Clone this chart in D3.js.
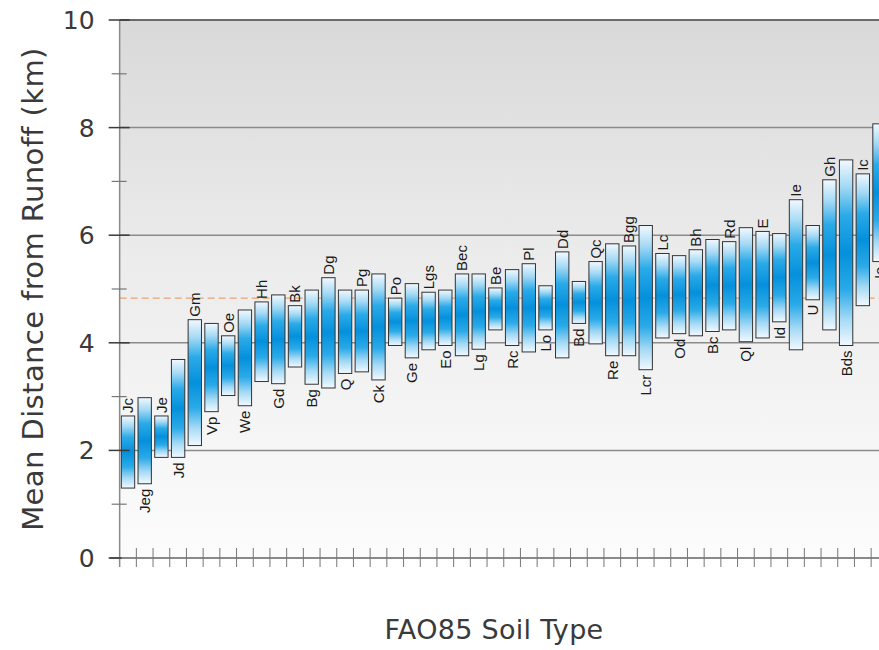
<!DOCTYPE html>
<html>
<head>
<meta charset="utf-8">
<script src="https://cdn.jsdelivr.net/npm/d3@7"></script>
<style>
  html, body { margin: 0; padding: 0; background: #ffffff; }
  svg { display: block; }
</style>
</head>
<body>
<svg id="chart" width="879" height="650"></svg>
<script>
// FAO85 soil units and the range of mean distance from runoff (km)
const soilTypes = ["Jc","Jeg","Je","Jd","Gm","Vp","Oe","We","Hh","Gd","Bk","Bg","Dg","Q","Pg","Ck","Po","Ge","Lgs","Eo","Bec","Lg","Be","Rc","Pl","Lo","Dd","Bd","Qc","Re","Bgg","Lcr","Lc","Od","Bh","Bc","Rd","Ql","E","Id","Ie","U","Gh","Bds","Ic","Io"];
const lowValues  = [1.30,1.38,1.87,1.87,2.09,2.72,3.02,2.83,3.28,3.24,3.55,3.23,3.16,3.43,3.46,3.31,3.95,3.72,3.87,3.95,3.76,3.88,4.24,3.95,3.83,4.24,3.72,4.36,3.98,3.76,3.76,3.50,4.09,4.17,4.13,4.21,4.24,4.02,4.09,4.39,3.87,4.80,4.24,3.95,4.69,5.51];
const highValues = [2.64,2.98,2.64,3.69,4.43,4.36,4.13,4.61,4.76,4.89,4.69,4.98,5.21,4.98,4.98,5.28,4.83,5.10,4.94,4.98,5.28,5.28,5.02,5.36,5.47,5.06,5.69,5.14,5.51,5.84,5.80,6.18,5.66,5.62,5.73,5.92,5.88,6.14,6.07,6.03,6.66,6.18,7.03,7.40,7.14,8.07];
const meanDistance = 4.83;
const majorTicks = [0, 2, 4, 6, 8, 10];
const minorTicks = [1, 3, 5, 7, 9];

const svg = d3.select("#chart");
const W = 879;
const plotLeft = 119.65, plotTop = 20, plotBottom = 558, step = 16.7;

const rows = soilTypes.map((t, i) => ({ type: t, low: lowValues[i], high: highValues[i], i }));

const x = d3.scaleBand()
  .domain(soilTypes)
  .range([plotLeft, plotLeft + soilTypes.length * step])
  .paddingInner(0.2)
  .paddingOuter(0.1);

const y = d3.scaleLinear().domain([0, 10]).range([plotBottom, plotTop]);

const defs = svg.append("defs");

// plot background: grey at the top fading to near white
const bg = defs.append("linearGradient").attr("id", "bgGrad")
  .attr("x1", 0).attr("y1", 0).attr("x2", 0).attr("y2", 1);
bg.append("stop").attr("offset", "0%").attr("stop-color", "#d9d9d9");
bg.append("stop").attr("offset", "45%").attr("stop-color", "#ececec");
bg.append("stop").attr("offset", "100%").attr("stop-color", "#fcfcfc");

// bar fill: white at both ends, blue in the middle
const bar = defs.append("linearGradient").attr("id", "barGrad")
  .attr("x1", 0).attr("y1", 0).attr("x2", 0).attr("y2", 1);
[["0%", "#f2f9ff"], ["14%", "#a6daf5"], ["30%", "#2aaae8"], ["50%", "#0590dc"],
 ["70%", "#2aaae8"], ["86%", "#a6daf5"], ["100%", "#f2f9ff"]]
  .forEach(([o, c]) => bar.append("stop").attr("offset", o).attr("stop-color", c));

const plotRight = W + 20;

svg.append("rect")
  .attr("x", plotLeft).attr("y", plotTop)
  .attr("width", plotRight - plotLeft).attr("height", plotBottom - plotTop)
  .attr("fill", "url(#bgGrad)");

// horizontal grid lines at the major ticks
svg.append("g").selectAll("line")
  .data(majorTicks.filter(v => v > 0))
  .join("line")
  .attr("x1", plotLeft).attr("x2", plotRight)
  .attr("y1", d => y(d)).attr("y2", d => y(d))
  .attr("stroke", d => d === 10 ? "#6a6a66" : "#8c8c8c")
  .attr("stroke-width", d => d === 10 ? 2 : 1.5);

// mean line
svg.append("line")
  .attr("x1", plotLeft).attr("x2", plotRight)
  .attr("y1", y(meanDistance)).attr("y2", y(meanDistance))
  .attr("stroke", "#f2a070").attr("stroke-width", 1.3)
  .attr("stroke-dasharray", "7,4");

// floating bars
svg.append("g").selectAll("rect")
  .data(rows)
  .join("rect")
  .attr("x", d => x(d.type))
  .attr("width", x.bandwidth())
  .attr("y", d => y(d.high))
  .attr("height", d => y(d.low) - y(d.high))
  .attr("fill", "url(#barGrad)")
  .attr("stroke", "#333333")
  .attr("stroke-width", 1);

// labels alternate above and below the bars
svg.append("g").selectAll("text")
  .data(rows)
  .join("text")
  .attr("transform", d => {
    const cx = x(d.type) + x.bandwidth() / 2;
    const yy = d.i % 2 === 0 ? y(d.high) - 3 : y(d.low) + 5;
    return `translate(${cx},${yy}) rotate(-90)`;
  })
  .attr("dy", "0.36em")
  .attr("text-anchor", d => d.i % 2 === 0 ? "start" : "end")
  .attr("font-family", "'Liberation Sans', Arial, sans-serif")
  .attr("font-size", 15)
  .attr("fill", "#1a1a1a")
  .text(d => d.type);

// y axis
const yAxis = svg.append("g");
yAxis.append("line")
  .attr("x1", plotLeft).attr("x2", plotLeft)
  .attr("y1", plotTop).attr("y2", plotBottom + 9)
  .attr("stroke", "#8a8a8a").attr("stroke-width", 1.5);
yAxis.selectAll(".minor")
  .data(minorTicks).join("line").attr("class", "minor")
  .attr("x1", plotLeft - 8).attr("x2", plotLeft + 7)
  .attr("y1", d => y(d)).attr("y2", d => y(d))
  .attr("stroke", "#777").attr("stroke-width", 1.2);
yAxis.selectAll(".major")
  .data(majorTicks).join("line").attr("class", "major")
  .attr("x1", plotLeft - 11).attr("x2", plotLeft + 10)
  .attr("y1", d => y(d)).attr("y2", d => y(d))
  .attr("stroke", "#3a3a3a").attr("stroke-width", 1.5);
yAxis.selectAll("text")
  .data(majorTicks).join("text")
  .attr("x", plotLeft - 25).attr("y", d => y(d))
  .attr("dy", "0.36em")
  .attr("text-anchor", "end")
  .attr("font-family", "'DejaVu Sans', sans-serif")
  .attr("font-size", 25)
  .attr("fill", "#3a3a3a")
  .text(d => d);

// x axis with ticks at the category boundaries
const xAxis = svg.append("g");
xAxis.append("line")
  .attr("x1", plotLeft - 10).attr("x2", plotRight)
  .attr("y1", plotBottom).attr("y2", plotBottom)
  .attr("stroke", "#8a8a8a").attr("stroke-width", 2);
xAxis.append("line")
  .attr("x1", plotLeft - 10).attr("x2", plotLeft + 2)
  .attr("y1", plotBottom).attr("y2", plotBottom)
  .attr("stroke", "#3a3a3a").attr("stroke-width", 1.5);
xAxis.selectAll(".tick")
  .data(soilTypes).join("line").attr("class", "tick")
  .attr("x1", d => x(d) + x.bandwidth() / 2 + x.step() / 2)
  .attr("x2", d => x(d) + x.bandwidth() / 2 + x.step() / 2)
  .attr("y1", plotBottom - 10).attr("y2", plotBottom + 9)
  .attr("stroke", "#777").attr("stroke-width", 1);

// axis titles
svg.append("text")
  .attr("transform", `translate(43,${(plotTop + plotBottom) / 2}) rotate(-90)`)
  .attr("text-anchor", "middle")
  .attr("font-family", "'DejaVu Sans', sans-serif")
  .attr("font-size", 29)
  .attr("letter-spacing", 0.4)
  .attr("fill", "#3a3a3a")
  .text("Mean Distance from Runoff (km)");

svg.append("text")
  .attr("x", 494).attr("y", 639)
  .attr("text-anchor", "middle")
  .attr("font-family", "'DejaVu Sans', sans-serif")
  .attr("font-size", 27)
  .attr("letter-spacing", 0.3)
  .attr("fill", "#3a3a3a")
  .text("FAO85 Soil Type");
</script>
</body>
</html>
